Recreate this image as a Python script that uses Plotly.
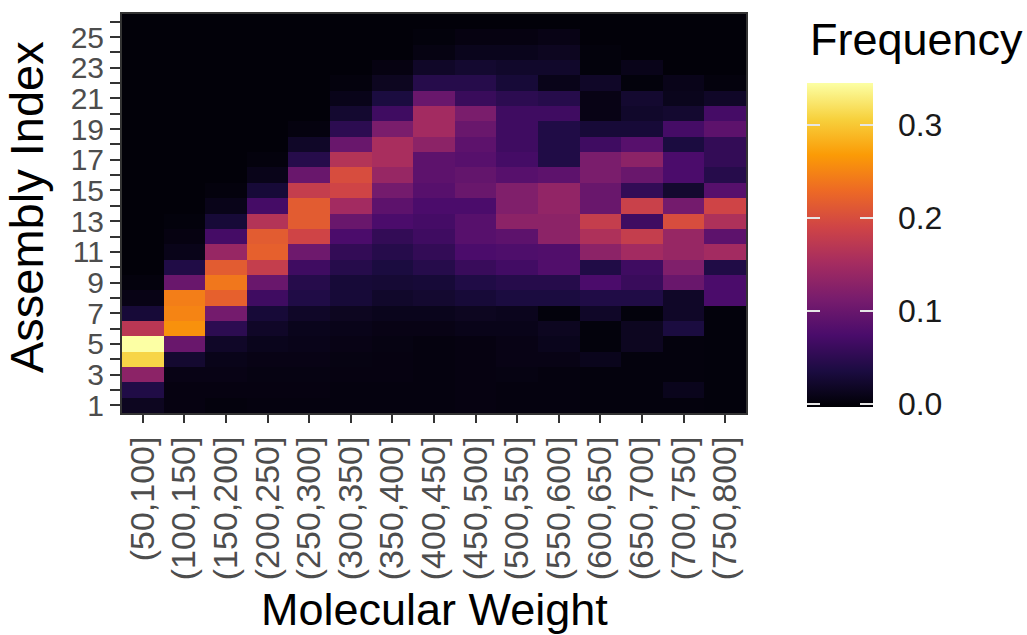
import plotly.graph_objects as go
import plotly.express as px

# Molecular-weight bins (x) and assembly index values (y)
mw_bins = ["(50,100]", "(100,150]", "(150,200]", "(200,250]", "(250,300]",
           "(300,350]", "(350,400]", "(400,450]", "(450,500]", "(500,550]",
           "(550,600]", "(600,650]", "(650,700]", "(700,750]", "(750,800]"]
assembly_index = list(range(1, 27))

# Frequency of each assembly index within a molecular-weight bin (one list per bin, AI 1..26)
mw_50_100 = [0.015, 0.04, 0.13, 0.31, 0.345, 0.17, 0.03, 0.008, 0.003, 0, 0, 0, 0,
             0, 0, 0, 0, 0, 0, 0, 0, 0, 0, 0, 0, 0]
mw_100_150 = [0.005, 0.005, 0.008, 0.025, 0.1, 0.26, 0.25, 0.245, 0.1, 0.04, 0.01, 0.005, 0.002,
              0, 0, 0, 0, 0, 0, 0, 0, 0, 0, 0, 0, 0]
mw_150_200 = [0.003, 0.005, 0.008, 0.01, 0.02, 0.05, 0.11, 0.22, 0.24, 0.215, 0.14, 0.07, 0.03,
              0.01, 0.003, 0, 0, 0, 0, 0, 0, 0, 0, 0, 0, 0]
mw_200_250 = [0.004, 0.005, 0.006, 0.008, 0.012, 0.02, 0.03, 0.065, 0.1, 0.18, 0.22, 0.215, 0.165,
              0.07, 0.03, 0.01, 0.003, 0, 0, 0, 0, 0, 0, 0, 0, 0]
mw_250_300 = [0.004, 0.005, 0.006, 0.008, 0.01, 0.012, 0.02, 0.04, 0.045, 0.065, 0.105, 0.19, 0.215,
              0.215, 0.18, 0.1, 0.045, 0.02, 0.004, 0, 0, 0, 0, 0, 0, 0]
mw_300_350 = [0.004, 0.004, 0.005, 0.006, 0.008, 0.01, 0.015, 0.03, 0.03, 0.045, 0.055, 0.075, 0.1,
              0.15, 0.19, 0.2, 0.165, 0.1, 0.05, 0.025, 0.01, 0.003, 0, 0, 0, 0]
mw_350_400 = [0.004, 0.004, 0.005, 0.005, 0.006, 0.008, 0.012, 0.022, 0.028, 0.035, 0.045, 0.055, 0.075,
              0.09, 0.11, 0.14, 0.155, 0.155, 0.115, 0.065, 0.035, 0.015, 0.005, 0, 0, 0]
mw_400_450 = [0.004, 0.004, 0.004, 0.004, 0.004, 0.008, 0.012, 0.025, 0.03, 0.045, 0.055, 0.065, 0.07,
              0.075, 0.085, 0.09, 0.09, 0.13, 0.15, 0.15, 0.1, 0.045, 0.02, 0.006, 0.002, 0]
mw_450_500 = [0.005, 0.005, 0.005, 0.005, 0.005, 0.01, 0.015, 0.03, 0.04, 0.06, 0.075, 0.085, 0.085,
              0.075, 0.1, 0.095, 0.085, 0.09, 0.1, 0.115, 0.06, 0.045, 0.025, 0.012, 0.005, 0]
mw_500_550 = [0.004, 0.004, 0.006, 0.008, 0.008, 0.01, 0.013, 0.035, 0.045, 0.068, 0.078, 0.09, 0.13,
              0.12, 0.12, 0.085, 0.07, 0.065, 0.065, 0.065, 0.05, 0.03, 0.022, 0.012, 0.005, 0]
mw_550_600 = [0.004, 0.004, 0.004, 0.008, 0.012, 0.015, 0.002, 0.035, 0.045, 0.08, 0.08, 0.13, 0.13,
              0.135, 0.135, 0.09, 0.04, 0.04, 0.04, 0.065, 0.045, 0.01, 0.022, 0.015, 0.008, 0]
mw_600_650 = [0.003, 0.003, 0.003, 0.012, 0.002, 0.002, 0.02, 0.04, 0.075, 0.04, 0.13, 0.16, 0.18,
              0.1, 0.1, 0.115, 0.115, 0.065, 0.03, 0.008, 0.008, 0.02, 0.002, 0.002, 0, 0]
mw_650_700 = [0.003, 0.003, 0.003, 0.003, 0.015, 0.015, 0.002, 0.04, 0.06, 0.065, 0.15, 0.18, 0.065,
              0.185, 0.055, 0.1, 0.13, 0.085, 0.03, 0.022, 0.025, 0.002, 0.01, 0, 0, 0]
mw_700_750 = [0.003, 0.012, 0.003, 0.003, 0.003, 0.035, 0.02, 0.02, 0.1, 0.12, 0.14, 0.14, 0.2,
              0.11, 0.025, 0.075, 0.075, 0.035, 0.07, 0.025, 0.012, 0.01, 0, 0, 0, 0]
mw_750_800 = [0.002, 0.002, 0.002, 0.002, 0.002, 0.002, 0.002, 0.075, 0.075, 0.04, 0.15, 0.09, 0.16,
              0.19, 0.085, 0.045, 0.055, 0.055, 0.09, 0.07, 0.02, 0.003, 0, 0, 0, 0]

columns = [mw_50_100, mw_100_150, mw_150_200, mw_200_250, mw_250_300, mw_300_350,
           mw_350_400, mw_400_450, mw_450_500, mw_500_550, mw_550_600, mw_600_650,
           mw_650_700, mw_700_750, mw_750_800]

# heatmap z is indexed [row = assembly index][column = weight bin]
z = [[col[i] for col in columns] for i in range(len(assembly_index))]

FONT = "Liberation Sans, Arial, sans-serif"
AXIS_GREY = "#4d4d4d"
FRAME = "#333333"
SCALE = px.colors.sequential.Inferno
ZMIN, ZMAX = -0.003, 0.345
CB_TICKS = [0.0, 0.1, 0.2, 0.3]

# shared colour-bar geometry (plot area spans 624 x 401 px)
CB_X = 1.0978
CB_Y = 0.4214
CB_LEN = 324
CB_THICK = 66
CB_TICK_LEN = 13


def bar_geometry(x, thickness):
    return dict(x=x, xanchor="left", xpad=0, y=CB_Y, yanchor="middle", ypad=0,
                thickness=thickness, thicknessmode="pixels",
                len=CB_LEN, lenmode="pixels", outlinewidth=0,
                tickmode="array", tickvals=CB_TICKS)


fig = go.Figure()

# main heatmap; its colour bar carries the tick labels
fig.add_trace(go.Heatmap(
    x=mw_bins, y=assembly_index, z=z,
    colorscale=SCALE, zmin=ZMIN, zmax=ZMAX,
    colorbar=dict(
        **bar_geometry(CB_X, CB_THICK),
        ticktext=["0.0", "0.1", "0.2", "0.3"],
        ticks="outside", ticklen=19, tickcolor="rgba(0,0,0,0)",
        tickfont=dict(family=FONT, size=32, color="#1a1a1a"),
    ),
))

# white tick marks inside the bar, on its right edge and on its left edge
for bx, thick in [(CB_X, CB_THICK), (CB_X, CB_TICK_LEN)]:
    fig.add_trace(go.Scatter(
        x=[None], y=[None], mode="markers", showlegend=False, hoverinfo="skip",
        marker=dict(
            color=[0.0], colorscale=SCALE, cmin=ZMIN, cmax=ZMAX, showscale=True,
            colorbar=dict(
                **bar_geometry(bx, thick),
                showticklabels=False,
                ticks="inside", ticklen=CB_TICK_LEN, tickwidth=1.5, tickcolor="#e6e6e6",
            ),
        ),
    ))

fig.update_layout(
    width=1027, height=635,
    margin=dict(l=122, r=281, t=12, b=222),
    paper_bgcolor="white", plot_bgcolor="black",
    showlegend=False,
    font=dict(family=FONT),
    xaxis=dict(
        type="category", range=[-0.5, 14.5],
        tickangle=-90, ticks="outside", ticklen=8, tickwidth=2, tickcolor=FRAME,
        tickfont=dict(family=FONT, size=34, color=AXIS_GREY),
        showgrid=False, zeroline=False,
        showline=True, linecolor=FRAME, linewidth=2, mirror=True,
    ),
    yaxis=dict(
        range=[0.5, 26.5], tickmode="linear", tick0=1, dtick=2,
        ticks="outside", ticklen=10, tickwidth=2, tickcolor=FRAME,
        minor=dict(dtick=1, tick0=0, ticks="outside", ticklen=10, tickwidth=2, tickcolor=FRAME),
        tickfont=dict(family=FONT, size=30, color=AXIS_GREY),
        showgrid=False, zeroline=False,
        showline=True, linecolor=FRAME, linewidth=2, mirror=True,
    ),
    annotations=[
        dict(text="Molecular Weight", xref="paper", yref="paper", x=0.5, y=-0.4928,
             xanchor="center", yanchor="middle", showarrow=False,
             font=dict(family=FONT, size=45, color="black")),
        dict(text="Assembly Index", xref="paper", yref="paper", x=-0.154, y=0.516,
             xanchor="center", yanchor="middle", textangle=-90, showarrow=False,
             font=dict(family=FONT, size=47, color="black")),
        dict(text="Frequency", xref="paper", yref="paper", x=1.0994, y=0.937,
             xanchor="left", yanchor="middle", showarrow=False,
             font=dict(family=FONT, size=45, color="black")),
    ],
)

fig.write_html("out.html")
